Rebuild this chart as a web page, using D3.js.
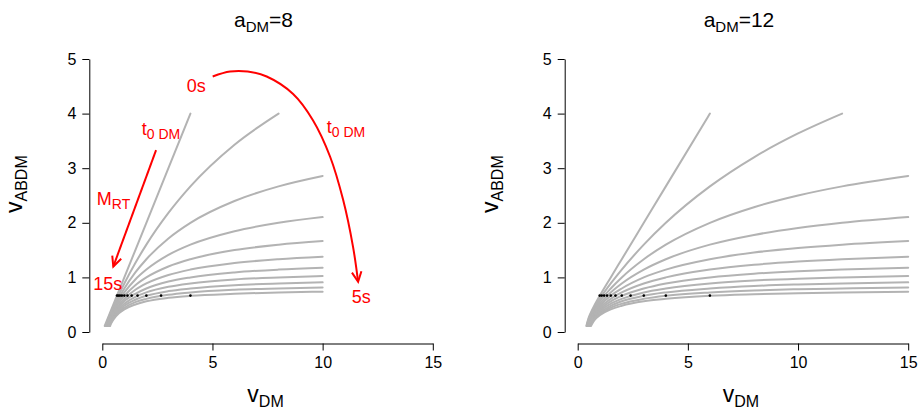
<!DOCTYPE html>
<html>
<head>
<meta charset="utf-8">
<script src="https://cdn.jsdelivr.net/npm/d3@7"></script>
<style>
  body { margin: 0; background: #fff; }
  svg { font-family: "Liberation Sans", Arial, Helvetica, sans-serif; }
</style>
</head>
<body>
<svg id="chart" width="920" height="415"></svg>
<script>
// t0 DM values of the curves, 0s .. 5s
var t0Values = [0, 0.5, 1, 1.5, 2, 2.5, 3, 3.5, 4, 4.5, 5];

// a_DM = 8 : one curve per t0, points [v_DM, v_ABDM]
var curvesA8 = [
  [[0.11,0.11],[1,1],[2,2],[4,4]],
  [[0.14,0.11],[0.25,0.227],[0.375,0.348],[0.5,0.465],[0.75,0.684],[1,0.889],[1.5,1.263],[2,1.6],[3,2.18],[4,2.667],[6,3.43],[8,4]],
  [[0.165,0.11],[0.25,0.204],[0.375,0.324],[0.5,0.432],[0.75,0.628],[1,0.797],[1.5,1.091],[2,1.333],[3,1.714],[4,2],[6,2.4],[8,2.667],[10,2.857]],
  [[0.189,0.11],[0.25,0.18],[0.375,0.299],[0.5,0.401],[0.75,0.578],[1,0.725],[1.5,0.962],[2,1.143],[3,1.412],[4,1.6],[6,1.846],[8,2],[10,2.105]],
  [[0.213,0.11],[0.25,0.156],[0.375,0.275],[0.5,0.373],[0.75,0.535],[1,0.663],[1.5,0.858],[2,1],[3,1.2],[4,1.333],[6,1.5],[8,1.6],[10,1.667]],
  [[0.236,0.11],[0.25,0.129],[0.375,0.252],[0.5,0.346],[0.75,0.493],[1,0.607],[1.5,0.773],[2,0.889],[3,1.043],[4,1.143],[6,1.263],[8,1.333],[10,1.379]],
  [[0.259,0.11],[0.375,0.229],[0.5,0.321],[0.75,0.458],[1,0.562],[1.5,0.7],[2,0.797],[3,0.924],[4,1],[6,1.091],[8,1.143],[10,1.176]],
  [[0.282,0.11],[0.375,0.206],[0.5,0.296],[0.75,0.426],[1,0.518],[1.5,0.644],[2,0.725],[3,0.827],[4,0.889],[6,0.962],[8,1],[10,1.026]],
  [[0.306,0.11],[0.375,0.182],[0.5,0.272],[0.75,0.395],[1,0.48],[1.5,0.591],[2,0.663],[3,0.749],[4,0.797],[6,0.858],[8,0.889],[10,0.909]],
  [[0.331,0.11],[0.375,0.158],[0.5,0.249],[0.75,0.367],[1,0.445],[1.5,0.547],[2,0.607],[3,0.682],[4,0.725],[6,0.773],[8,0.797],[10,0.815]],
  [[0.357,0.11],[0.375,0.132],[0.5,0.226],[0.75,0.341],[1,0.414],[1.5,0.504],[2,0.562],[3,0.626],[4,0.663],[6,0.7],[8,0.725],[10,0.739]]
];

// a_DM = 12
var curvesA12 = [
  [[0.393,0.11],[0.5,0.262],[0.6,0.358],[0.75,0.48],[1,0.663],[1.5,1],[2,1.333],[3,2],[4,2.667],[6,4]],
  [[0.407,0.11],[0.5,0.239],[0.6,0.332],[0.75,0.445],[1,0.607],[1.5,0.889],[2,1.143],[3,1.6],[4,2],[6,2.667],[8,3.2],[10,3.636],[12,4]],
  [[0.423,0.11],[0.5,0.216],[0.6,0.307],[0.75,0.414],[1,0.562],[1.5,0.797],[2,1],[3,1.333],[4,1.6],[6,2],[8,2.286],[10,2.5],[12,2.667],[15,2.857]],
  [[0.44,0.11],[0.5,0.192],[0.6,0.283],[0.75,0.384],[1,0.518],[1.5,0.725],[2,0.889],[3,1.143],[4,1.333],[6,1.6],[8,1.778],[10,1.905],[12,2],[15,2.105]],
  [[0.458,0.11],[0.5,0.168],[0.6,0.26],[0.75,0.357],[1,0.48],[1.5,0.663],[2,0.797],[3,1],[4,1.143],[6,1.333],[8,1.455],[10,1.538],[12,1.6],[15,1.667]],
  [[0.477,0.11],[0.5,0.143],[0.6,0.237],[0.75,0.331],[1,0.445],[1.5,0.607],[2,0.725],[3,0.889],[4,1],[6,1.143],[8,1.231],[10,1.29],[12,1.333],[15,1.379]],
  [[0.497,0.11],[0.6,0.214],[0.75,0.306],[1,0.414],[1.5,0.562],[2,0.663],[3,0.797],[4,0.889],[6,1],[8,1.067],[10,1.111],[12,1.143],[15,1.176]],
  [[0.52,0.11],[0.6,0.19],[0.75,0.282],[1,0.384],[1.5,0.518],[2,0.607],[3,0.725],[4,0.797],[6,0.889],[8,0.943],[10,0.977],[12,1],[15,1.026]],
  [[0.543,0.11],[0.6,0.166],[0.75,0.259],[1,0.357],[1.5,0.48],[2,0.562],[3,0.663],[4,0.725],[6,0.797],[8,0.843],[10,0.87],[12,0.889],[15,0.909]],
  [[0.57,0.11],[0.6,0.141],[0.75,0.236],[1,0.331],[1.5,0.445],[2,0.518],[3,0.607],[4,0.663],[6,0.725],[8,0.761],[10,0.783],[12,0.797],[15,0.815]],
  [[0.599,0.11],[0.75,0.213],[1,0.306],[1.5,0.414],[2,0.48],[3,0.562],[4,0.607],[6,0.663],[8,0.691],[10,0.71],[12,0.725],[15,0.739]]
];

// black dots, all at the same v_ABDM
var dotsX8  = [0.667, 0.727, 0.8, 0.889, 1.0, 1.143, 1.333, 1.6, 2.0, 2.667, 4.0];
var dotsX12 = [1.0, 1.091, 1.2, 1.333, 1.5, 1.714, 2.0, 2.4, 3.0, 4.0, 6.0];
var dotY = 0.667;

var xTicks = [0, 5, 10, 15];
var yTicks = [0, 1, 2, 3, 4, 5];

// red annotations (left panel), in data units
var arcArrow = [[5.01,4.68],[5.8,4.77],[6.6,4.77],[7.46,4.68],[8.66,4.36],[9.56,3.88],[10.34,3.21],[10.93,2.42],[11.38,1.56],[11.61,0.92]];
var mrtArrow = [[2.44,3.33],[0.5,1.2]];
var redLabels = [
  {x: 3.83,  y: 4.40, main: "0s",  sub: ""},
  {x: 1.79,  y: 3.61, main: "t",   sub: "0 DM"},
  {x: 10.19, y: 3.64, main: "t",   sub: "0 DM"},
  {x: -0.25, y: 2.33, main: "M",   sub: "RT"},
  {x: -0.41, y: 0.77, main: "15s", sub: ""},
  {x: 11.32, y: 0.53, main: "5s",  sub: ""}
];

var svg = d3.select("#chart");
var red = "#ff0000", gray = "#b3b3b3";

function subText(g, x, y, main, sub, size, subSize, anchor, rotate) {
  var t = g.append("text")
    .attr("x", x).attr("y", y)
    .attr("font-size", size)
    .attr("text-anchor", anchor || "start");
  if (rotate) t.attr("transform", "rotate(-90," + x + "," + y + ")");
  t.append("tspan").text(main);
  if (sub) t.append("tspan").attr("font-size", subSize).attr("dy", size * 0.22).text(sub);
  return t;
}

function arrowHead(g, p1, p2, color) {
  var ang = Math.atan2(p2[1] - p1[1], p2[0] - p1[0]), len = 11, spread = Math.PI / 7;
  var a = [p2[0] - len * Math.cos(ang - spread), p2[1] - len * Math.sin(ang - spread)];
  var b = [p2[0] - len * Math.cos(ang + spread), p2[1] - len * Math.sin(ang + spread)];
  g.append("path")
    .attr("d", "M" + a + "L" + p2 + "L" + b)
    .attr("fill", "none").attr("stroke", color).attr("stroke-width", 2);
}

function drawPanel(left, aLabel, curves, dotsX, annotate) {
  var x = d3.scaleLinear().domain([0, 15]).range([left, left + 330.5]);
  var y = d3.scaleLinear().domain([0, 5]).range([332, 59]);
  var g = svg.append("g");

  // axes, detached like base R
  var xAxis = g.append("g").attr("transform", "translate(0,343.5)")
    .call(d3.axisBottom(x).tickValues(xTicks).tickFormat(d3.format("d")).tickSize(7).tickSizeOuter(0).tickPadding(6));
  var yAxis = g.append("g").attr("transform", "translate(" + (left - 13) + ",0)")
    .call(d3.axisLeft(y).tickValues(yTicks).tickFormat(d3.format("d")).tickSize(7).tickSizeOuter(0).tickPadding(6));
  [xAxis, yAxis].forEach(function (ax) {
    ax.attr("font-family", null).attr("font-size", 16);
    ax.selectAll("text").attr("fill", "#000");
    ax.selectAll("path, line").attr("stroke", "#000");
  });

  var line = d3.line()
    .x(function (d) { return x(d[0]); })
    .y(function (d) { return y(d[1]); })
    .curve(d3.curveMonotoneX);

  g.append("g").selectAll("path")
    .data(curves)
    .join("path")
    .attr("d", line)
    .attr("fill", "none")
    .attr("stroke", gray)
    .attr("stroke-width", 2)
    .attr("stroke-linecap", "round");

  g.append("g").selectAll("circle")
    .data(dotsX)
    .join("circle")
    .attr("cx", function (d) { return x(d); })
    .attr("cy", y(dotY))
    .attr("r", 1.3)
    .attr("fill", "#000");

  var cx = (x(0) + x(15)) / 2;
  subText(g, cx - 4, 27, "a", "DM", 21, 15, "middle").append("tspan").attr("dy", -21 * 0.22).text(aLabel);
  subText(g, cx - 2, 402, "v", "DM", 23, 16, "middle");
  subText(g, left - 80, 213, "v", "ABDM", 23, 16, "start", true);

  if (annotate) {
    var curve = d3.line()
      .x(function (d) { return x(d[0]); })
      .y(function (d) { return y(d[1]); })
      .curve(d3.curveCatmullRom);
    g.append("path").attr("d", curve(arcArrow))
      .attr("fill", "none").attr("stroke", red).attr("stroke-width", 2);
    var n = arcArrow.length;
    arrowHead(g, [x(arcArrow[n - 2][0]), y(arcArrow[n - 2][1])], [x(arcArrow[n - 1][0]), y(arcArrow[n - 1][1])], red);

    g.append("path").attr("d", curve(mrtArrow))
      .attr("fill", "none").attr("stroke", red).attr("stroke-width", 2);
    arrowHead(g, [x(mrtArrow[0][0]), y(mrtArrow[0][1])], [x(mrtArrow[1][0]), y(mrtArrow[1][1])], red);

    redLabels.forEach(function (l) {
      subText(g, x(l.x), y(l.y), l.main, l.sub, 18, 14, "start").attr("fill", red);
    });
  }
}

drawPanel(102.3, "=8", curvesA8, dotsX8, true);
drawPanel(577.7, "=12", curvesA12, dotsX12, false);
</script>
</body>
</html>
